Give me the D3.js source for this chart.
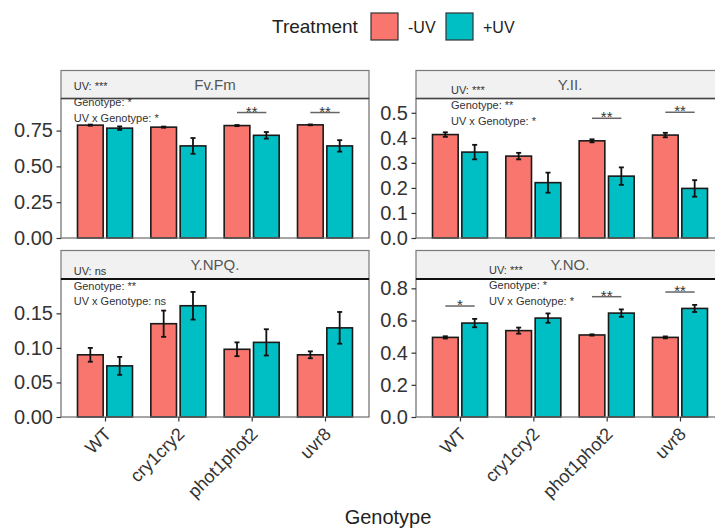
<!DOCTYPE html>
<html><head><meta charset="utf-8">
<script src="https://cdn.jsdelivr.net/npm/d3@7"></script>
<style>
body{margin:0;background:#fff;}
svg{display:block;font-family:"Liberation Sans",Arial,sans-serif;}
</style></head>
<body><div id="chart"></div>
<script>
const genotypes=['WT','cry1cry2','phot1phot2','uvr8'];
const treatments=['-UV','+UV'];
const panelNames=['Fv.Fm','Y.II.','Y.NPQ.','Y.NO.'];
// means per treatment [-UV, +UV], in genotype order
const fvfmMean=[[0.788,0.774,0.785,0.790],[0.767,0.643,0.717,0.643]];
const fvfmErr=[[0.004,0.004,0.004,0.003],[0.012,0.055,0.023,0.040]];
const yiiMean=[[0.413,0.327,0.388,0.411],[0.343,0.221,0.247,0.198]];
const yiiErr=[[0.009,0.013,0.006,0.009],[0.029,0.040,0.035,0.033]];
const ynpqMean=[[0.090,0.135,0.098,0.090],[0.074,0.161,0.108,0.129]];
const ynpqErr=[[0.010,0.019,0.010,0.005],[0.013,0.020,0.019,0.023]];
const ynoMean=[[0.495,0.537,0.510,0.495],[0.584,0.615,0.646,0.675]];
const ynoErr=[[0.007,0.019,0.004,0.006],[0.026,0.029,0.023,0.022]];
// significance brackets: genotype, height, label
const fvfmSig=[['phot1phot2',0.876,'**'],['uvr8',0.876,'**']];
const yiiSig=[['phot1phot2',0.478,'**'],['uvr8',0.502,'**']];
const ynpqSig=[];
const ynoSig=[['WT',0.690,'*'],['phot1phot2',0.748,'**'],['uvr8',0.777,'**']];
// ANOVA summary text
const fvfmStats=['UV: ***','Genotype: *','UV x Genotype: *'];
const yiiStats=['UV: ***','Genotype: **','UV x Genotype: *'];
const ynpqStats=['UV: ns','Genotype: **','UV x Genotype: ns'];
const ynoStats=['UV: ***','Genotype: *','UV x Genotype: *'];
// y axis
const yTop=[0.974,0.557,0.1997,0.858];
const yTicks=[[0,0.25,0.5,0.75],[0,0.1,0.2,0.3,0.4,0.5],[0,0.05,0.1,0.15],[0,0.2,0.4,0.6,0.8]];
const yFmt=['.2f','.1f','.2f','.1f'];

const W=715,H=531;
const cols={'-UV':'#F8766D','+UV':'#00BFC4'};
const svg=d3.select('#chart').append('svg').attr('width',W).attr('height',H);
svg.append('rect').attr('width',W).attr('height',H).attr('fill','#fff');

// panel layout
const colX=[61,416],pw=308;
const rows=[{st:70.5,pt:98.5,pb:238},{st:250.5,pt:279,pb:417}];
const statPos=[{dx:12.7,dy:[19,35,51]},{dx:35,dy:[23.5,38.5,54.5]},{dx:12.7,dy:[24,39,54.5]},{dx:73,dy:[23,38,54]}];
const panels=[
  {mean:fvfmMean,err:fvfmErr,sig:fvfmSig,stats:fvfmStats},
  {mean:yiiMean,err:yiiErr,sig:yiiSig,stats:yiiStats},
  {mean:ynpqMean,err:ynpqErr,sig:ynpqSig,stats:ynpqStats},
  {mean:ynoMean,err:ynoErr,sig:ynoSig,stats:ynoStats}
];

const x=d3.scalePoint().domain(genotypes).range([0,pw]).padding(0.6);
const step=x.step();
const off=d3.scaleOrdinal().domain(treatments).range([-0.2*step,0.2*step]);
const bw=0.35*step;

panels.forEach((p,i)=>{
  const r=rows[Math.floor(i/2)],x0=colX[i%2];
  const h=r.pb-r.pt;
  const y=d3.scaleLinear().domain([0,yTop[i]]).range([h,0]);
  const g=svg.append('g').attr('transform',`translate(${x0},${r.pt})`);
  // bars
  const rowsData=[];
  treatments.forEach((t,ti)=>genotypes.forEach((gn,gi)=>rowsData.push({t,gn,v:p.mean[ti][gi],e:p.err[ti][gi]})));
  g.selectAll('.bar').data(rowsData).join('rect').attr('class','bar')
    .attr('x',d=>x(d.gn)+off(d.t)-bw/2).attr('width',bw)
    .attr('y',d=>y(d.v)).attr('height',d=>h-y(d.v))
    .attr('fill',d=>cols[d.t]).attr('stroke','#1a1a1a').attr('stroke-width',1.6);
  // error bars
  const eb=g.selectAll('.eb').data(rowsData).join('g').attr('class','eb')
    .attr('transform',d=>`translate(${x(d.gn)+off(d.t)},0)`)
    .attr('stroke','#111').attr('stroke-width',1.8);
  eb.append('line').attr('y1',d=>y(d.v-d.e)).attr('y2',d=>y(d.v+d.e));
  eb.append('line').attr('x1',-2.5).attr('x2',2.5).attr('y1',d=>y(d.v-d.e)).attr('y2',d=>y(d.v-d.e));
  eb.append('line').attr('x1',-2.5).attr('x2',2.5).attr('y1',d=>y(d.v+d.e)).attr('y2',d=>y(d.v+d.e));
  // significance brackets
  p.sig.forEach(([gn,v,lbl])=>{
    g.append('line').attr('x1',x(gn)+off('-UV')).attr('x2',x(gn)+off('+UV'))
      .attr('y1',y(v)).attr('y2',y(v)).attr('stroke','#666').attr('stroke-width',1.5);
    g.append('text').attr('x',x(gn)).attr('y',y(v)+4).attr('text-anchor','middle')
      .attr('font-size',15).attr('fill','#333').text(lbl);
  });
  // panel border
  g.append('rect').attr('width',pw).attr('height',h).attr('fill','none').attr('stroke','#6b6b6b').attr('stroke-width',1.2);
  // y axis
  const ya=g.append('g').call(d3.axisLeft(y).tickValues(yTicks[i]).tickFormat(d3.format(yFmt[i])).tickSize(4.5).tickPadding(3.5));
  ya.select('.domain').remove();
  ya.selectAll('line').attr('stroke','#333').attr('stroke-width',1.2);
  ya.selectAll('text').attr('font-size',20).attr('fill','#333').attr('font-family','"Liberation Sans",Arial,sans-serif');
  // x axis on bottom row
  if(i>=2){
    const xa=g.append('g').attr('transform',`translate(0,${h})`).call(d3.axisBottom(x).tickSize(4.5).tickFormat(''));
    xa.select('.domain').remove();
    xa.selectAll('line').attr('stroke','#333').attr('stroke-width',1.2);
    g.selectAll('.xl').data(genotypes).join('text').attr('class','xl')
      .attr('transform',d=>`translate(${x(d)-2},${h+9}) rotate(-45)`)
      .attr('text-anchor','end').attr('dy','0.72em').attr('font-size',18).attr('fill','#333').text(d=>d);
  }
  // strip
  const sh=r.pt-r.st;
  const s=svg.append('g').attr('transform',`translate(${x0},${r.st})`);
  s.append('rect').attr('width',pw).attr('height',sh).attr('fill','#f1f1f1').attr('stroke','#7a7a7a').attr('stroke-width',1.2);
  s.append('line').attr('x1',0).attr('x2',pw).attr('y1',sh).attr('y2',sh)
    .attr('stroke',i<2?'#444':'#111').attr('stroke-width',i<2?1.6:2.2);
  s.append('text').attr('x',pw/2).attr('y',sh/2+5.4).attr('text-anchor','middle')
    .attr('font-size',15).attr('fill','#555').text(panelNames[i]);
  // stats annotation
  p.stats.forEach((t,k)=>{
    svg.append('text').attr('x',x0+statPos[i].dx).attr('y',r.st+statPos[i].dy[k])
      .attr('font-size',11).attr('fill','#333').text(t);
  });
});

// axis title
svg.append('text').attr('x',388).attr('y',524).attr('text-anchor','middle')
  .attr('font-size',20).attr('fill','#222').text('Genotype');

// legend
const leg=svg.append('g').attr('transform','translate(272,0)');
leg.append('text').attr('x',0).attr('y',33).attr('font-size',19).attr('fill','#222').text('Treatment');
treatments.forEach((t,i)=>{
  const gx=leg.append('g').attr('transform',`translate(${99+i*75},13)`);
  gx.append('rect').attr('width',27).attr('height',27).attr('fill',cols[t]).attr('stroke','#333').attr('stroke-width',1.2);
  gx.append('text').attr('x',37).attr('y',19.5).attr('font-size',16).attr('fill','#222').text(t);
});
</script></body></html>
